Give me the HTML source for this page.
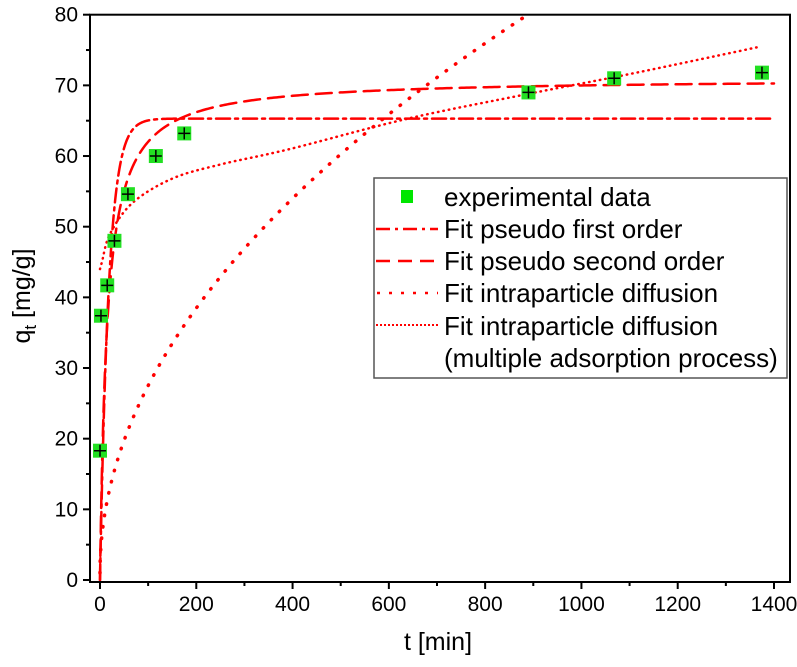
<!DOCTYPE html>
<html><head><meta charset="utf-8"><style>
body{margin:0;background:#fff;}
svg text{font-family:"Liberation Sans",sans-serif;}
</style></head><body>
<svg id="chart" width="797" height="662" viewBox="0 0 797 662" xmlns="http://www.w3.org/2000/svg">
<g id="plot"></g>
<g id="axes"></g>
<g id="legend">
  <rect x="374" y="178" width="413" height="200" fill="#fff" stroke="#555" stroke-width="1.5"/>
  <rect x="401" y="190" width="12" height="13" fill="#00e600"/>
  <text x="444" y="206" font-size="26">experimental data</text>
  <line x1="376" y1="229" x2="438" y2="229" stroke="#f00" stroke-width="2.5" stroke-dasharray="14 5 3 5"/>
  <text x="444" y="238" font-size="26">Fit pseudo first order</text>
  <line x1="376" y1="261" x2="438" y2="261" stroke="#f00" stroke-width="2.5" stroke-dasharray="14 8"/>
  <text x="444" y="270" font-size="26">Fit pseudo second order</text>
  <line x1="377" y1="293" x2="438" y2="293" stroke="#f00" stroke-width="2.5" stroke-dasharray="3 9"/>
  <text x="444" y="302" font-size="26">Fit intraparticle diffusion</text>
  <line x1="376" y1="325" x2="438" y2="325" stroke="#f00" stroke-width="2" stroke-dasharray="2 2"/>
  <text x="444" y="335" font-size="26">Fit intraparticle diffusion</text>
  <text x="444" y="367" font-size="26">(multiple adsorption process)</text>
</g>
</svg>
<script>
const expT=[0,2,15,30,58,116,175,890,1068,1375];
const expQ=[18.3,37.4,41.7,48,54.6,60,63.2,69,71,71.8];
const pfoParams=[65.3,0.055];      // qe, k1
const psoParams=[71,4.9];          // qe, h
const ipdParams=[2.65,1.0];        // kid, C
const multiT=[0,4,21,68,150,250,395,640,890,1100,1366];
const multiQ=[44,45,49,53.4,56.8,58.8,61,65.3,68.8,71.6,75.4];
const xTicks=[0,200,400,600,800,1000,1200,1400];
const yTicks=[0,10,20,30,40,50,60,70,80];

const X0=90,X1=790,Y0=582,Y1=14.7;
const sx=t=>100+t*(774-100)/1400;
const sy=q=>580+q*(14.7-580)/80;
const NS="http://www.w3.org/2000/svg";
function mk(tag,attrs,parent){const e=document.createElementNS(NS,tag);for(const k in attrs)e.setAttribute(k,attrs[k]);parent.appendChild(e);return e;}
const plot=document.getElementById('plot'),axes=document.getElementById('axes');

function curve(fn,tmax,name,dash,w){
  let d="";const n=400;
  for(let i=0;i<=n;i++){const t=tmax*Math.pow(i/n,2);const q=fn(t);d+=(i?"L":"M")+sx(t).toFixed(2)+","+sy(Math.min(q,81)).toFixed(2);}
  const p=mk('path',{d:d,fill:'none',stroke:'#f00','stroke-width':w,'stroke-dasharray':dash,'stroke-linecap':'round'},plot);
  
  
}
const cp=mk('clipPath',{id:'clip'},document.getElementById('chart'));
mk('rect',{x:X0,y:Y1,width:X1-X0,height:Y0-Y1},cp);
plot.setAttribute('clip-path','url(#clip)');
curve(t=>pfoParams[0]*(1-Math.exp(-pfoParams[1]*t)),1400,'pfo-fit-line','14 5 3 5',2.5);
curve(t=>psoParams[1]*t/(1+psoParams[1]*t/psoParams[0]),1400,'pso-fit-line','16 8',2.5);
curve(t=>ipdParams[0]*Math.sqrt(t)+ipdParams[1],1000,'ipd-fit-line','0.5 11',3.5);
{
 const P=multiT.map((t,i)=>[sx(t),sy(multiQ[i])]);
 let d="M"+P[0][0]+","+P[0][1];
 for(let i=0;i<P.length-1;i++){
   const p0=P[Math.max(i-1,0)],p1=P[i],p2=P[i+1],p3=P[Math.min(i+2,P.length-1)];
   const c1=[p1[0]+(p2[0]-p0[0])/6,p1[1]+(p2[1]-p0[1])/6],c2=[p2[0]-(p3[0]-p1[0])/6,p2[1]-(p3[1]-p1[1])/6];
   d+=`C${c1[0].toFixed(2)},${c1[1].toFixed(2)} ${c2[0].toFixed(2)},${c2[1].toFixed(2)} ${p2[0].toFixed(2)},${p2[1].toFixed(2)}`;
 }
 const p=mk('path',{d:d,fill:'none',stroke:'#f00','stroke-width':2.5,'stroke-dasharray':'0.5 5','stroke-linecap':'round','stroke-linejoin':'round'},plot);
 
 
}
expT.forEach((t,i)=>{
  const g=mk('g',{},plot);
  
  
  const x=sx(t),y=sy(expQ[i]);
  mk('rect',{x:x-7,y:y-7,width:14,height:14,fill:'#22e022'},g);
  mk('path',{d:`M${x-6},${y}H${x+6}M${x},${y-6}V${y+6}`,stroke:'#000','stroke-width':1.5},g);
});
const fr=mk('rect',{x:X0,y:Y1,width:X1-X0,height:Y0-Y1,fill:'none',stroke:'#000','stroke-width':2},axes);


xTicks.forEach(v=>{
  const x=sx(v);
  mk('line',{x1:x,y1:Y0,x2:x,y2:Y0+7,stroke:'#000','stroke-width':2},axes);
  const tx=mk('text',{x:x,y:Y0+29,'font-size':21,'text-anchor':'middle'},axes);tx.textContent=v;
  
  
  if(v<1400){const xm=sx(v+100);mk('line',{x1:xm,y1:Y0,x2:xm,y2:Y0+4,stroke:'#000','stroke-width':2},axes);}
});
yTicks.forEach(v=>{
  const y=sy(v);
  mk('line',{x1:X0,y1:y,x2:X0-7,y2:y,stroke:'#000','stroke-width':2},axes);
  const tx=mk('text',{x:X0-12,y:y+7,'font-size':21,'text-anchor':'end'},axes);tx.textContent=v;
  
  
  if(v<80){const ym=sy(v+5);mk('line',{x1:X0,y1:ym,x2:X0-4,y2:ym,stroke:'#000','stroke-width':2},axes);}
});
const xt=mk('text',{x:438,y:650,'font-size':25,'text-anchor':'middle'},axes);xt.textContent='t [min]';


const yt=mk('text',{x:0,y:0,'font-size':25,'text-anchor':'middle',transform:'translate(30,296) rotate(-90)'},axes);
yt.innerHTML='q<tspan font-size="17" dy="6">t</tspan><tspan dy="-6"> [mg/g]</tspan>';


</script>
</body></html>
